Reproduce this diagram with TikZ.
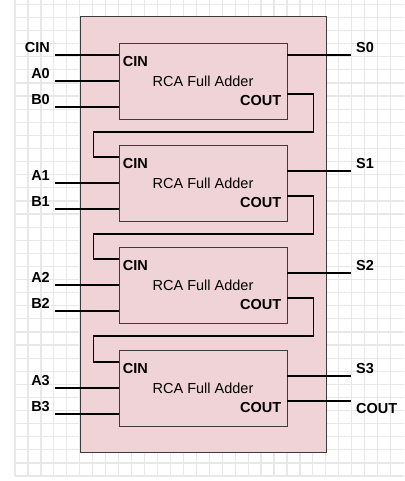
\documentclass[tikz,border=0pt]{standalone}
\usepackage{fontspec}
\setmainfont{Liberation Sans}
\usetikzlibrary{positioning}
\definecolor{chippink}{HTML}{F0D3D6}
\definecolor{gridgrey}{HTML}{E8E8E8}
\definecolor{boxgrey}{HTML}{3C3C3C}

\begin{document}
\begin{tikzpicture}[x=1pt, y=-1pt,
    font=\fontsize{14.5}{16}\selectfont,
    chip/.style={draw=boxgrey, line width=1pt, fill=chippink, minimum width=246pt, minimum height=435pt},
    adder/.style={draw=boxgrey, line width=0.8pt, fill=chippink, minimum width=168pt, minimum height=76pt, inner sep=0pt},
    pin/.style={font=\fontsize{14.5}{16}\selectfont\bfseries, inner sep=0pt},
    wire/.style={line width=1.6pt}]
        \useasboundingbox (0,0) rectangle (404,481);

        % Grid
        \foreach \i in {0,...,29}
          \draw[gridgrey, line width=1.2pt] ({15+12.95*\i},0) -- ({15+12.95*\i},476);
        \foreach \j in {0,...,36}
          \draw[gridgrey, line width=1.2pt] (15,{476-13.1*\j}) -- (404,{476-13.1*\j});

        % Chip
        \node[chip] (chip) at (203,234.5) {};

        % Adder 0
        \node[adder] (fa0) at (203,81) {RCA Full Adder};
        \node[pin, below right=14pt and 4pt of fa0.north west] (fa0cin) {CIN};
        \node[pin, above left=14pt and 6pt of fa0.south east] (fa0cout) {COUT};
        \coordinate[yshift=26pt] (ci0) at (fa0.west);
        \coordinate[yshift=-26pt] (b0) at (fa0.west);
        \coordinate[yshift=26pt] (s0) at (fa0.east);
        \coordinate[yshift=-13pt] (co0) at (fa0.east);

        % Adder 1
        \node[adder] (fa1) at (203,183) {RCA Full Adder};
        \node[pin, below right=14pt and 4pt of fa1.north west] (fa1cin) {CIN};
        \node[pin, above left=14pt and 6pt of fa1.south east] (fa1cout) {COUT};
        \coordinate[yshift=26pt] (ci1) at (fa1.west);
        \coordinate[yshift=-26pt] (b1) at (fa1.west);
        \coordinate[yshift=12pt] (s1) at (fa1.east);
        \coordinate[yshift=-13pt] (co1) at (fa1.east);

        % Adder 2
        \node[adder] (fa2) at (203,285) {RCA Full Adder};
        \node[pin, below right=14pt and 4pt of fa2.north west] (fa2cin) {CIN};
        \node[pin, above left=14pt and 6pt of fa2.south east] (fa2cout) {COUT};
        \coordinate[yshift=26pt] (ci2) at (fa2.west);
        \coordinate[yshift=-26pt] (b2) at (fa2.west);
        \coordinate[yshift=12pt] (s2) at (fa2.east);
        \coordinate[yshift=-13pt] (co2) at (fa2.east);

        % Adder 3
        \node[adder] (fa3) at (203,388) {RCA Full Adder};
        \node[pin, below right=14pt and 4pt of fa3.north west] (fa3cin) {CIN};
        \node[pin, above left=14pt and 6pt of fa3.south east] (fa3cout) {COUT};
        \coordinate[yshift=26pt] (ci3) at (fa3.west);
        \coordinate[yshift=-26pt] (b3) at (fa3.west);
        \coordinate[yshift=12pt] (s3) at (fa3.east);
        \coordinate[yshift=-13pt] (co3) at (fa3.east);

        % Inputs
        \draw[wire] (ci0) -- ++(-64,0) node[pin, above left=2pt and 4pt] (cin) {CIN};
        \draw[wire] (fa0.west) -- ++(-64,0) node[pin, above left=2pt and 4pt] (a0) {A0};
        \draw[wire] (b0) -- ++(-64,0) node[pin, above left=2pt and 4pt] (b0pin) {B0};
        \draw[wire] (fa1.west) -- ++(-64,0) node[pin, above left=2pt and 4pt] (a1) {A1};
        \draw[wire] (b1) -- ++(-64,0) node[pin, above left=2pt and 4pt] (b1pin) {B1};
        \draw[wire] (fa2.west) -- ++(-64,0) node[pin, above left=2pt and 4pt] (a2) {A2};
        \draw[wire] (b2) -- ++(-64,0) node[pin, above left=2pt and 4pt] (b2pin) {B2};
        \draw[wire] (fa3.west) -- ++(-64,0) node[pin, above left=2pt and 4pt] (a3) {A3};
        \draw[wire] (b3) -- ++(-64,0) node[pin, above left=2pt and 4pt] (b3pin) {B3};

        % Outputs
        \draw[wire] (s0) -- ++(64,0) node[pin, above right=2pt and 4pt] (s0pin) {S0};
        \draw[wire] (s1) -- ++(64,0) node[pin, above right=2pt and 4pt] (s1pin) {S1};
        \draw[wire] (s2) -- ++(64,0) node[pin, above right=2pt and 4pt] (s2pin) {S2};
        \draw[wire] (s3) -- ++(64,0) node[pin, above right=2pt and 4pt] (s3pin) {S3};
        \draw[wire] (co3) -- ++(64,0) node[pin, below right=1.5pt and 4pt] (cout) {COUT};

        % Carry chain
        \draw[wire] (co0) -- ++(26,0) -- ++(0,38) -- ++(-220,0) |- (ci1);
        \draw[wire] (co1) -- ++(26,0) -- ++(0,38) -- ++(-220,0) |- (ci2);
        \draw[wire] (co2) -- ++(26,0) -- ++(0,38) -- ++(-220,0) |- (ci3);
      \end{tikzpicture}
\end{document}
